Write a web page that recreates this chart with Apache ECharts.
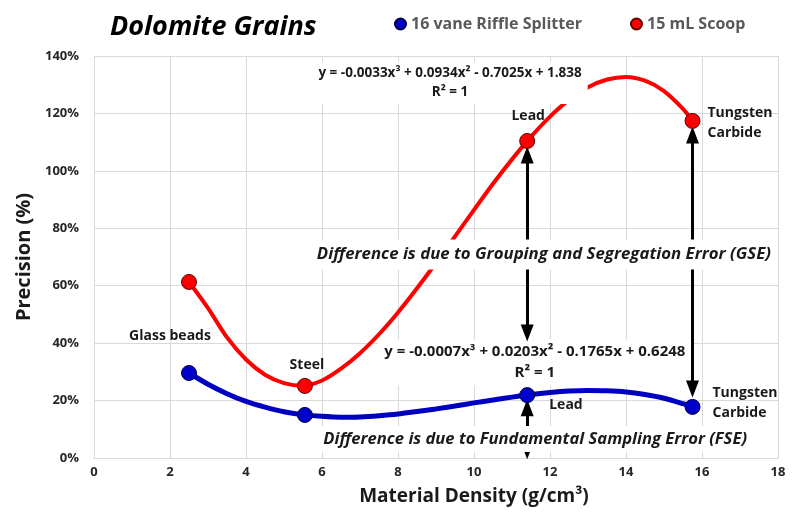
<!DOCTYPE html>
<html>
<head>
<meta charset="utf-8">
<script src="https://cdn.jsdelivr.net/npm/echarts@6/dist/echarts.min.js"></script>
<style>
  html, body { margin: 0; padding: 0; background: #fff; }
  #chart { width: 793px; height: 513px; }
</style>
</head>
<body>
<div id="chart"></div>
<script>
// Materials tested and their densities (g/cm³)
const materials = ['Glass beads', 'Steel', 'Lead', 'Tungsten Carbide'];
const densities = [2.5, 5.55, 11.4, 15.75];

// Precision (fraction) for each sampling method
const riffleSplitter = [0.296, 0.150, 0.219, 0.178];
const scoop = [0.613, 0.251, 1.104, 1.174];

// Polynomial (cubic) trendline samples
const fitX = [2.5, 3, 3.5, 4, 4.5, 5, 5.5, 6, 6.5, 7, 7.5, 8, 8.5, 9, 9.5, 10, 10.5, 11, 11.5, 12, 12.5, 13, 13.5, 14, 14.5, 15, 15.5, 15.75];
const riffleFitY = [0.296, 0.257, 0.224, 0.197, 0.177, 0.161, 0.151, 0.145, 0.142, 0.143, 0.147, 0.153, 0.162, 0.171, 0.181, 0.192, 0.202, 0.212, 0.221, 0.228, 0.233, 0.235, 0.234, 0.230, 0.221, 0.208, 0.189, 0.178];
const scoopFitY = [0.613, 0.522, 0.420, 0.343, 0.290, 0.261, 0.252, 0.270, 0.311, 0.365, 0.431, 0.507, 0.591, 0.680, 0.772, 0.864, 0.955, 1.040, 1.119, 1.189, 1.247, 1.291, 1.318, 1.327, 1.314, 1.278, 1.216, 1.174];

// Trendline equations
const riffleEquation = ['y = -0.0007x³ + 0.0203x² - 0.1765x + 0.6248', 'R² = 1'];
const scoopEquation = ['y = -0.0033x³ + 0.0934x² - 0.7025x + 1.838', 'R² = 1'];

// Axis ranges [min, max, interval]
const xRange = [0, 18, 2];
const yRange = [0, 1.4, 0.2];

const seriesNames = ['16 vane Riffle Splitter', '15 mL Scoop'];
const gseNote = 'Difference is due to Grouping and Segregation Error (GSE)';
const fseNote = 'Difference is due to Fundamental Sampling Error (FSE)';

// Arrow spans [x, yFrom, yTo] in data units
const gseArrows = [[11.4, 1.055, 0.435], [15.75, 1.125, 0.24]];
const fseArrows = [[11.4, 0.175, 0.025]];

const FONT = '"Open Sans", Lato, sans-serif';
const zip = (xs, ys) => xs.map((x, i) => [x, ys[i]]);
const pct = v => Math.round(v * 100) + '%';

const chart = echarts.init(document.getElementById('chart'), null, { renderer: 'canvas' });

const arrowLines = gseArrows.concat(fseArrows).map(a => [
  { coord: [a[0], a[1]] },
  { coord: [a[0], a[2]] }
]);

const option = {
  animation: false,
  backgroundColor: '#fff',
  textStyle: { fontFamily: FONT },
  title: {
    text: 'Dolomite Grains',
    left: 105, top: 9,
    textStyle: { fontSize: 27, fontWeight: 'bold', fontStyle: 'italic', color: '#000', fontFamily: FONT }
  },
  legend: {
    data: seriesNames,
    left: 394, top: 16,
    padding: 0,
    itemWidth: 11, itemHeight: 11, itemGap: 48,
    icon: 'circle',
    textStyle: { fontSize: 16, fontWeight: 'bold', color: '#595959', fontFamily: FONT }
  },
  grid: { left: 94, right: 15, top: 56, bottom: 55 },
  xAxis: {
    type: 'value', min: xRange[0], max: xRange[1], interval: xRange[2],
    name: 'Material Density (g/cm³)', nameLocation: 'middle', nameGap: 29,
    nameTextStyle: { fontSize: 19, fontWeight: 'bold', color: '#1a1a1a', fontFamily: FONT, padding: [0, 0, 0, 76] },
    axisLine: { show: true, lineStyle: { color: '#d9d9d9', width: 1 } },
    axisTick: { show: false },
    axisLabel: { margin: 8, fontSize: 13, fontWeight: 'bold', color: '#262626', fontFamily: FONT },
    splitLine: { show: true, lineStyle: { color: '#d9d9d9', width: 1 } }
  },
  yAxis: {
    type: 'value', min: yRange[0], max: yRange[1], interval: yRange[2],
    name: 'Precision (%)', nameLocation: 'middle', nameGap: 55, nameRotate: 90,
    nameTextStyle: { fontSize: 20, fontWeight: 'bold', color: '#1a1a1a', fontFamily: FONT },
    axisLine: { show: true, lineStyle: { color: '#d9d9d9', width: 1 } },
    axisTick: { show: false },
    axisLabel: { margin: 15, fontSize: 13, fontWeight: 'bold', color: '#262626', fontFamily: FONT, formatter: pct },
    splitLine: { show: true, lineStyle: { color: '#d9d9d9', width: 1 } }
  },
  series: [
    {
      type: 'line', data: zip(fitX, riffleFitY), smooth: 0.3, showSymbol: false,
      silent: true, z: 2, lineStyle: { color: '#0000c0', width: 5 }
    },
    {
      type: 'line', data: zip(fitX, scoopFitY), smooth: 0.3, showSymbol: false,
      silent: true, z: 2, lineStyle: { color: '#ff0000', width: 4 }
    },
    {
      name: seriesNames[0], type: 'scatter', data: zip(densities, riffleSplitter),
      symbol: 'circle', symbolSize: 15, z: 10,
      itemStyle: { color: '#0000cc', borderColor: '#00003a', borderWidth: 1, opacity: 1 }
    },
    {
      name: seriesNames[1], type: 'scatter', data: zip(densities, scoop),
      symbol: 'circle', symbolSize: 15, z: 10,
      itemStyle: { color: '#ff0000', borderColor: '#5a0000', borderWidth: 1, opacity: 1 },
      markLine: {
        silent: true, z: 6,
        symbol: ['triangle', 'triangle'], symbolSize: [13, 17],
        label: { show: false },
        lineStyle: { color: '#000', width: 3, type: 'solid' },
        itemStyle: { color: '#000' },
        data: arrowLines
      }
    }
  ]
};

chart.setOption(option);

const P = (x, y) => chart.convertToPixel({ gridIndex: 0 }, [x, y]);

function txt(pos, text, opts) {
  return Object.assign({
    type: 'text', x: pos[0], y: pos[1], z: 20,
    style: Object.assign({
      text: text,
      fontFamily: FONT, fontSize: 14, fontWeight: 'bold',
      fill: '#1a1a1a', align: 'center', verticalAlign: 'middle'
    }, opts.style || {})
  }, opts.el || {});
}

function shift(p, dx, dy) { return [p[0] + dx, p[1] + dy]; }

const graphics = [
  // point labels
  txt(shift(P(densities[0], riffleSplitter[0]), -19, -37), materials[0], {}),
  txt(shift(P(densities[1], scoop[1]), 2, -21), materials[1], {}),
  txt(shift(P(densities[2], scoop[2]), 1, -25), materials[2], {}),
  txt(shift(P(densities[3], scoop[3]), 15, 2), materials[3].replace(' ', '\n'), { style: { align: 'left', lineHeight: 20 } }),
  txt(shift(P(densities[2], riffleSplitter[2]), 22, 10), materials[2], { style: { align: 'left' } }),
  txt(shift(P(densities[3], riffleSplitter[3]), 20, -4), materials[3].replace(' ', '\n'), { style: { align: 'left', lineHeight: 20 } }),
  // trendline equations
  txt(P(9.37, 1.306), scoopEquation.join('\n'), {
    style: { fontSize: 13.5, lineHeight: 19, backgroundColor: '#fff', padding: [2, 6, 2, 6] }, el: { z: 4 }
  }),
  txt(P(11.6, 0.333), riffleEquation.join('\n'), {
    style: { fontSize: 15, lineHeight: 21, backgroundColor: '#fff', padding: [2, 6, 2, 6] }, el: { z: 4 }
  }),
  // error notes
  txt(P(11.84, 0.709), gseNote, {
    style: { fontSize: 16.8, fontStyle: 'italic', lineHeight: 20, backgroundColor: '#fff', padding: [5, 6, 5, 6] }, el: { z: 30 }
  }),
  txt(P(11.61, 0.066), fseNote, {
    style: { fontSize: 16.6, fontStyle: 'italic', lineHeight: 20, backgroundColor: '#fff', padding: [3, 6, 3, 6] }, el: { z: 30 }
  })
];

chart.setOption({ graphic: { elements: graphics } });
</script>
</body>
</html>
